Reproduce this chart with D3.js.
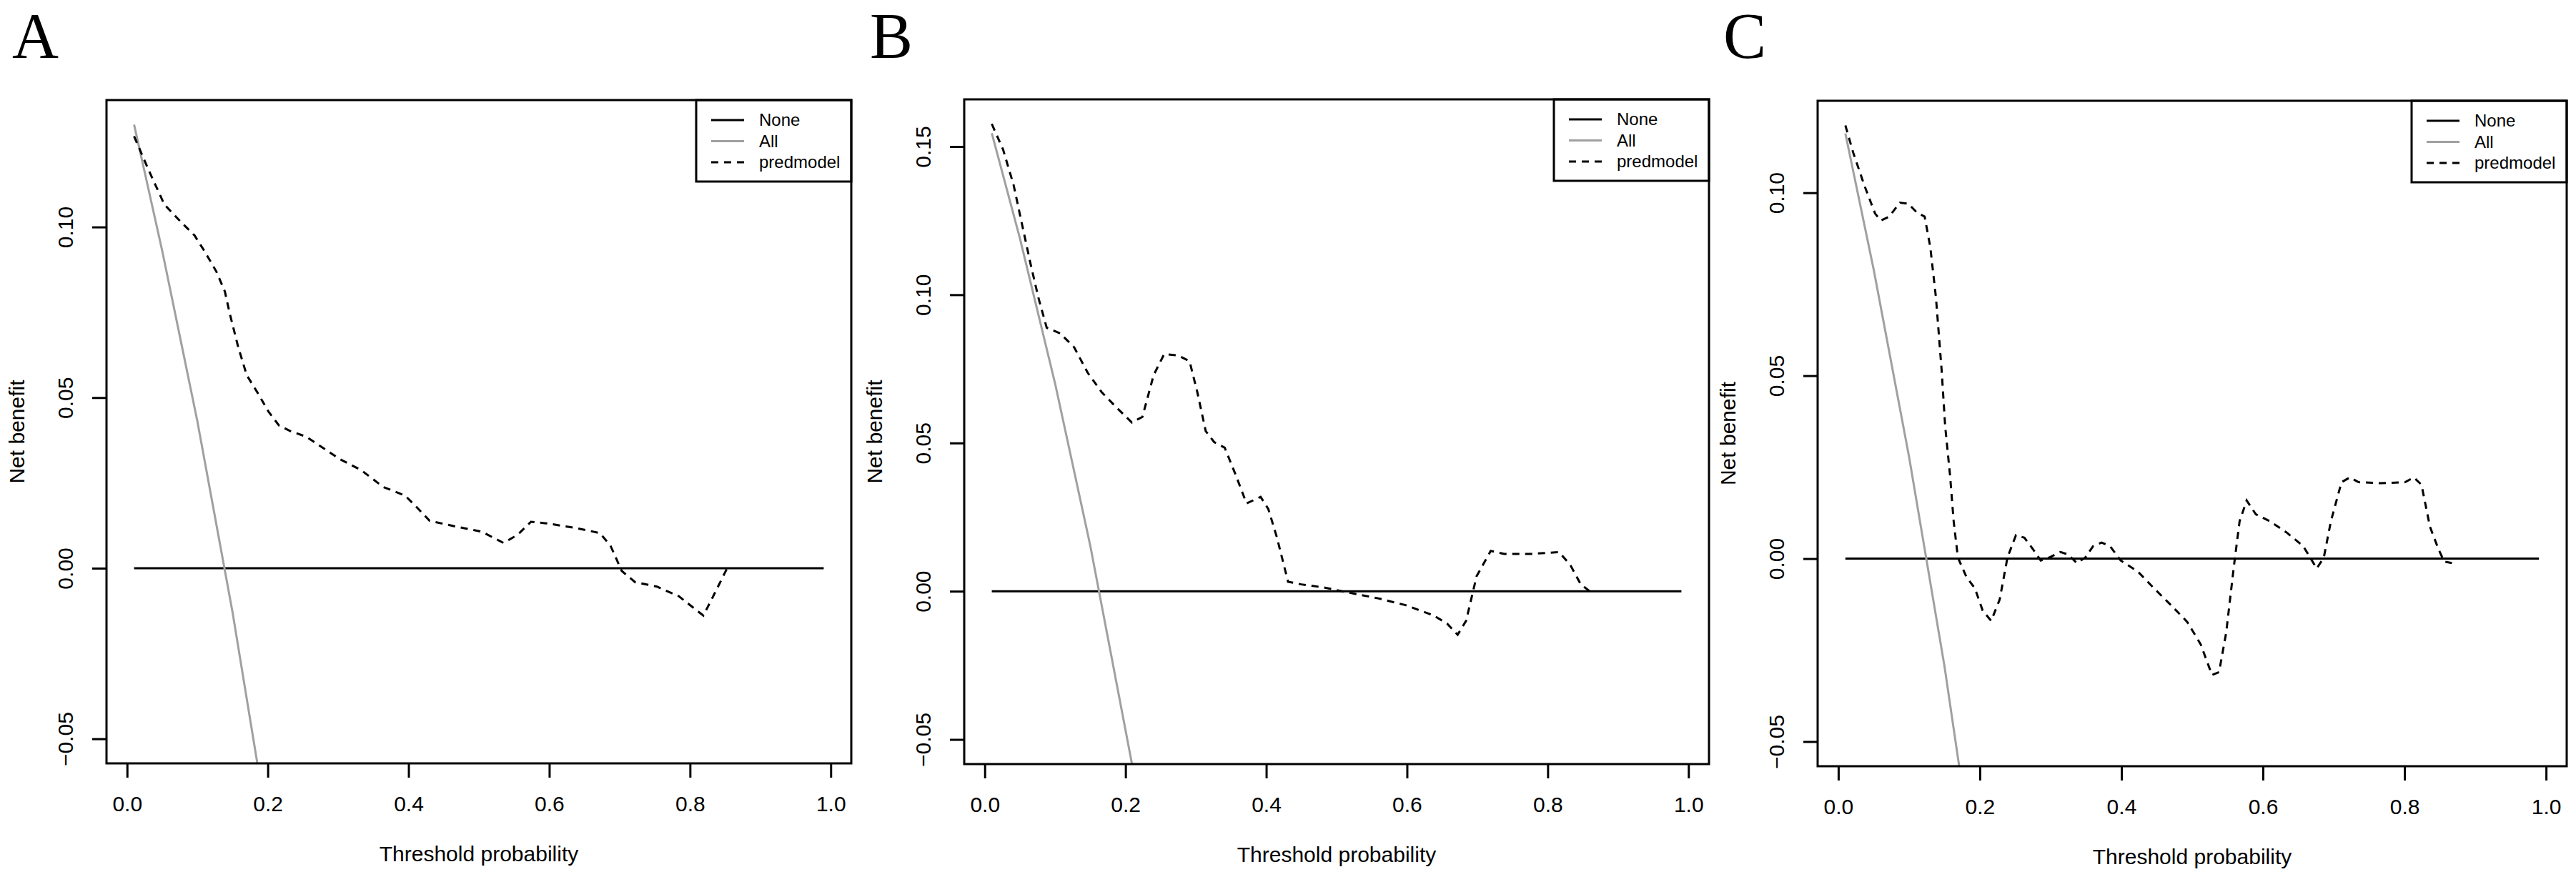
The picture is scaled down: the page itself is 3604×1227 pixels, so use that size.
<!DOCTYPE html>
<html>
<head>
<meta charset="utf-8">
<script src="https://cdn.jsdelivr.net/npm/d3@7/dist/d3.min.js"></script>
<style>
    body { margin: 0; background: #fff; }
    text { font-family: "Liberation Sans", Arial, sans-serif; fill: #000; }
</style>
</head>
<body>
<div id="dca-figure"></div>
<script>
// ---- data ----
var vPanelLetters = ["A", "B", "C"];
var vLegendLabels = ["None", "All", "predmodel"];
var vXTicks = [0, 0.2, 0.4, 0.6, 0.8, 1.0];
var vYTicksA = [-0.05, 0, 0.05, 0.10];
var vYTicksB = [-0.05, 0, 0.05, 0.10, 0.15];
var vYTicksC = [-0.05, 0, 0.05, 0.10];
var vYMin = -0.05;

// treat none
var vNoneThreshold = [0.01, 0.99];
var vNoneBenefit = [0, 0];

// treat all (drawn until it leaves the plot region)
var vAllThresholdA = [0.01, 0.05, 0.10, 0.15, 0.185];
var vAllBenefitA = [0.130, 0.093, 0.043, -0.013, -0.057];
var vAllThresholdB = [0.01, 0.05, 0.10, 0.15, 0.209];
var vAllBenefitB = [0.1545, 0.119, 0.070, 0.0153, -0.058];
var vAllThresholdC = [0.01, 0.05, 0.10, 0.15, 0.171];
var vAllBenefitC = [0.1162, 0.079, 0.0278, -0.0294, -0.057];

// prediction model
var vModelThresholdA = [0.010, 0.030, 0.053, 0.076, 0.096, 0.111, 0.127, 0.139, 0.146, 0.158, 0.170, 0.185, 0.201,
    0.216, 0.232, 0.255, 0.279, 0.302, 0.333, 0.364, 0.395, 0.411, 0.430, 0.465, 0.504, 0.535, 0.555, 0.574, 0.598,
    0.637, 0.672, 0.687, 0.703, 0.722, 0.753, 0.784, 0.819, 0.835, 0.854];
var vModelBenefitA = [0.1266, 0.117, 0.1066, 0.1016, 0.0975, 0.0926, 0.0869, 0.0811, 0.0746, 0.0648, 0.0566, 0.0516,
    0.0459, 0.0418, 0.0402, 0.0385, 0.0352, 0.0320, 0.0287, 0.0238, 0.0213, 0.0180, 0.0139, 0.0123, 0.0107, 0.0074,
    0.0098, 0.0136, 0.0131, 0.0118, 0.0103, 0.0066, -0.0008, -0.0041, -0.0054, -0.0082, -0.0139, -0.0074, 0.0005];

var vModelThresholdB = [0.010, 0.026, 0.041, 0.053, 0.065, 0.076, 0.088, 0.107, 0.127, 0.146, 0.166, 0.185, 0.209,
    0.224, 0.240, 0.255, 0.275, 0.291, 0.302, 0.314, 0.326, 0.341, 0.357, 0.372, 0.392, 0.403, 0.415, 0.431, 0.450,
    0.481, 0.520, 0.559, 0.598, 0.637, 0.657, 0.672, 0.684, 0.699, 0.719, 0.738, 0.777, 0.816, 0.832, 0.847, 0.863];
var vModelBenefitB = [0.1576, 0.149, 0.137, 0.1237, 0.1105, 0.0992, 0.0889, 0.0870, 0.0823, 0.0738, 0.0672, 0.0625,
    0.0569, 0.0588, 0.0729, 0.0800, 0.0795, 0.0776, 0.0672, 0.0540, 0.0503, 0.0484, 0.0390, 0.0296, 0.0318, 0.0277,
    0.0183, 0.0032, 0.0023, 0.0013, -0.0006, -0.0024, -0.0047, -0.0081, -0.0109, -0.0147, -0.0100, 0.0051, 0.0136,
    0.0126, 0.0126, 0.0132, 0.0089, 0.0023, -0.0006];

var vModelThresholdC = [0.010, 0.021, 0.037, 0.052, 0.060, 0.072, 0.087, 0.099, 0.111, 0.122, 0.130, 0.138, 0.146,
    0.151, 0.158, 0.163, 0.169, 0.181, 0.193, 0.204, 0.216, 0.228, 0.239, 0.251, 0.263, 0.275, 0.286, 0.298, 0.314,
    0.325, 0.337, 0.349, 0.360, 0.372, 0.384, 0.399, 0.423, 0.446, 0.470, 0.493, 0.512, 0.528, 0.538, 0.548, 0.559,
    0.567, 0.577, 0.590, 0.610, 0.633, 0.657, 0.676, 0.686, 0.696, 0.711, 0.723, 0.735, 0.766, 0.801, 0.813, 0.824,
    0.836, 0.848, 0.856, 0.867];
var vModelBenefitC = [0.1184, 0.111, 0.1019, 0.0943, 0.0924, 0.0935, 0.0973, 0.0970, 0.0946, 0.0935, 0.0851, 0.0713,
    0.0515, 0.0362, 0.0225, 0.0102, 0.0003, -0.0050, -0.0081, -0.0142, -0.0170, -0.0112, 0.0003, 0.0064, 0.0057,
    0.0026, -0.0005, 0.0003, 0.0018, 0.0011, -0.0012, 0.0003, 0.0034, 0.0044, 0.0034, -0.0005, -0.0035, -0.0081,
    -0.0127, -0.0173, -0.0234, -0.0318, -0.0310, -0.0203, -0.0020, 0.0102, 0.0159, 0.0121, 0.0102, 0.0072, 0.0034,
    -0.0027, 0.0003, 0.0102, 0.0209, 0.0222, 0.0209, 0.0206, 0.0209, 0.0222, 0.0202, 0.0087, 0.0026, -0.0008, -0.0012];

// ---- layout ----
var vWidth = 3604, vHeight = 1227;
var vFrames = [
    { mLeft: 149, mRight: 1191, mTop: 140, mBottom: 1068 },
    { mLeft: 1349, mRight: 2391, mTop: 139, mBottom: 1069 },
    { mLeft: 2543, mRight: 3591, mTop: 141, mBottom: 1072 }
];

var vPanels = [
    { letter: vPanelLetters[0], yTicks: vYTicksA, all: d3.zip(vAllThresholdA, vAllBenefitA), model: d3.zip(vModelThresholdA, vModelBenefitA) },
    { letter: vPanelLetters[1], yTicks: vYTicksB, all: d3.zip(vAllThresholdB, vAllBenefitB), model: d3.zip(vModelThresholdB, vModelBenefitB) },
    { letter: vPanelLetters[2], yTicks: vYTicksC, all: d3.zip(vAllThresholdC, vAllBenefitC), model: d3.zip(vModelThresholdC, vModelBenefitC) }
];

var svg = d3.select("#dca-figure")
    .append("svg")
    .attr("width", vWidth)
    .attr("height", vHeight);

svg.append("rect")
    .attr("width", vWidth)
    .attr("height", vHeight)
    .attr("fill", "#fff");

// R style range: data range padded by 4% on each side
function padDomain(aMin, aMax) {
    var vPad = (aMax - aMin) * 0.04;
    return [aMin - vPad, aMax + vPad];
}

vPanels.forEach(function (aPanel, aIdx) {
    var vFrame = vFrames[aIdx];
    var vNone = d3.zip(vNoneThreshold, vNoneBenefit);

    var vXScale = d3.scaleLinear()
        .domain(padDomain(d3.min(vNoneThreshold), d3.max(vNoneThreshold)))
        .range([vFrame.mLeft, vFrame.mRight]);

    var vYMax = d3.max(aPanel.all.concat(aPanel.model), function (aItem) { return aItem[1]; });
    var vYScale = d3.scaleLinear()
        .domain(padDomain(vYMin, vYMax))
        .range([vFrame.mBottom, vFrame.mTop]);

    var g = svg.append("g");
    var vClipId = "clip-" + aIdx;

    g.append("clipPath")
        .attr("id", vClipId)
        .append("rect")
        .attr("x", vFrame.mLeft)
        .attr("y", vFrame.mTop)
        .attr("width", vFrame.mRight - vFrame.mLeft)
        .attr("height", vFrame.mBottom - vFrame.mTop);

    // panel letter
    g.append("text")
        .attr("x", vFrame.mLeft - 132)
        .attr("y", 81)
        .style("font-family", "'Liberation Serif', 'Times New Roman', serif")
        .style("font-size", "90px")
        .text(aPanel.letter);

    // axes, ticks outward
    var vXAxis = d3.axisBottom(vXScale)
        .tickValues(vXTicks)
        .tickSizeInner(20)
        .tickSizeOuter(0)
        .tickPadding(14)
        .tickFormat(d3.format(".1f"));
    var vXG = g.append("g")
        .attr("transform", "translate(0," + vFrame.mBottom + ")")
        .call(vXAxis);

    var vYAxis = d3.axisLeft(vYScale)
        .tickValues(aPanel.yTicks)
        .tickSizeInner(20)
        .tickSizeOuter(0)
        .tickFormat(d3.format(".2f"));
    var vYG = g.append("g")
        .attr("transform", "translate(" + vFrame.mLeft + ",0)")
        .call(vYAxis);

    [vXG, vYG].forEach(function (aAxis) {
        aAxis.select(".domain").remove();
        aAxis.selectAll("line").attr("stroke", "#000").attr("stroke-width", 3);
        aAxis.selectAll("text")
            .style("font-size", "30px")
            .style("font-family", "'Liberation Sans', Arial, sans-serif")
            .attr("fill", "#000");
    });

    vXG.selectAll("text").attr("dy", null).attr("y", 0)
        .attr("transform", "translate(0,67)");

    // y tick labels parallel to the axis
    vYG.selectAll("text")
        .attr("x", null).attr("dy", null)
        .attr("text-anchor", "middle")
        .attr("transform", "translate(-47,0) rotate(-90)");

    // axis titles
    g.append("text")
        .attr("x", (vFrame.mLeft + vFrame.mRight) / 2)
        .attr("y", vFrame.mBottom + 137)
        .attr("text-anchor", "middle")
        .style("font-size", "30px")
        .text("Threshold probability");

    g.append("text")
        .attr("text-anchor", "middle")
        .attr("transform", "translate(" + (vFrame.mLeft - 115) + "," + ((vFrame.mTop + vFrame.mBottom) / 2) + ") rotate(-90)")
        .style("font-size", "30px")
        .text("Net benefit");

    var vLine = d3.line()
        .x(function (aItem) { return vXScale(aItem[0]); })
        .y(function (aItem) { return vYScale(aItem[1]); });

    var vPlot = g.append("g").attr("clip-path", "url(#" + vClipId + ")");

    vPlot.append("path")
        .datum(vNone)
        .attr("d", vLine)
        .attr("fill", "none")
        .attr("stroke", "#000")
        .attr("stroke-width", 3);

    vPlot.append("path")
        .datum(aPanel.all)
        .attr("d", vLine)
        .attr("fill", "none")
        .attr("stroke", "#a0a0a0")
        .attr("stroke-width", 3);

    vPlot.append("path")
        .datum(aPanel.model)
        .attr("d", vLine)
        .attr("fill", "none")
        .attr("stroke", "#000")
        .attr("stroke-width", 3)
        .attr("stroke-dasharray", "10,8");

    // legend, top right corner
    var vLegendW = 217, vLegendH = 114;
    var vLegend = g.append("g")
        .attr("transform", "translate(" + (vFrame.mRight - vLegendW) + "," + vFrame.mTop + ")");
    vLegend.append("rect")
        .attr("width", vLegendW)
        .attr("height", vLegendH)
        .attr("fill", "#fff")
        .attr("stroke", "#000")
        .attr("stroke-width", 3);

    var vLegendStyles = [
        { stroke: "#000", dash: null },
        { stroke: "#a0a0a0", dash: null },
        { stroke: "#000", dash: "10,8" }
    ];
    var vRows = vLegend.selectAll(".legend-row")
        .data(vLegendLabels)
        .enter()
        .append("g")
        .attr("class", "legend-row")
        .attr("transform", function (aItem, aRow) { return "translate(0," + (28 + aRow * 29.5) + ")"; });

    vRows.append("line")
        .attr("x1", 21)
        .attr("x2", 67)
        .attr("stroke", function (aItem, aRow) { return vLegendStyles[aRow].stroke; })
        .attr("stroke-dasharray", function (aItem, aRow) { return vLegendStyles[aRow].dash; })
        .attr("stroke-width", 3);

    vRows.append("text")
        .attr("x", 88)
        .attr("dy", "0.35em")
        .style("font-size", "24px")
        .text(function (aItem) { return aItem; });

    // plot frame
    g.append("rect")
        .attr("x", vFrame.mLeft)
        .attr("y", vFrame.mTop)
        .attr("width", vFrame.mRight - vFrame.mLeft)
        .attr("height", vFrame.mBottom - vFrame.mTop)
        .attr("fill", "none")
        .attr("stroke", "#000")
        .attr("stroke-width", 3);
});
</script>
</body>
</html>
